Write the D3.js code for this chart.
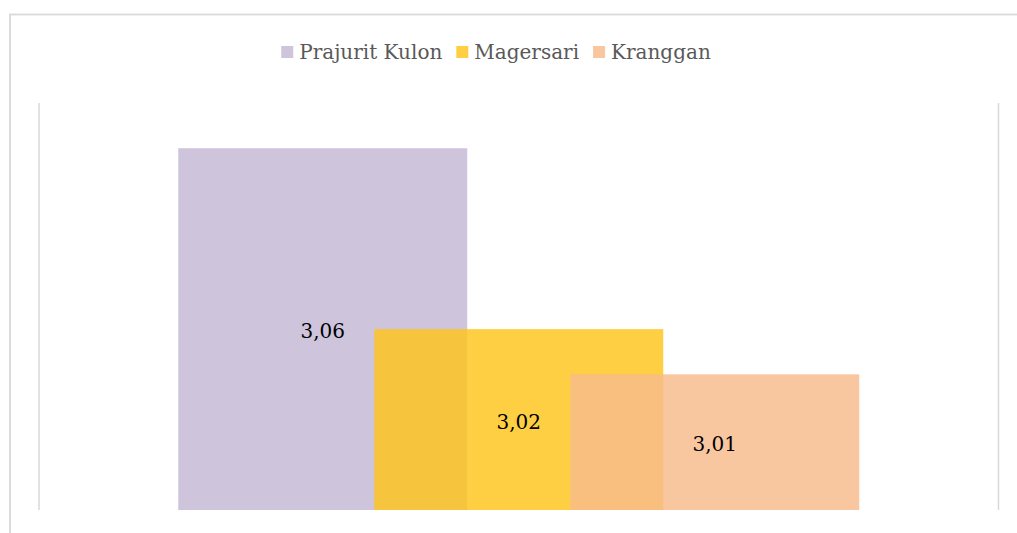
<!DOCTYPE html>
<meta charset="utf-8">
<style>
body { margin: 0; background: #fff; }
text { font-family: "DejaVu Serif", serif; }
.legend text { font-size: 20px; fill: #595959; }
.label { font-size: 20px; fill: #000; }
</style>
<body>
<script src="https://cdn.jsdelivr.net/npm/d3@7"></script>
<script>

var series = ["Prajurit Kulon", "Magersari", "Kranggan"];
var values = [3.06, 3.02, 3.01];
var labels = ["3,06", "3,02", "3,01"];
var colors = ["#c3b7d4", "#ffc51a", "#f7bb8b"];
var yDomain = [2.98, 3.07];

var width = 1017,
    height = 533;

var plot = {left: 39, right: 998.5, top: 103, bottom: 510};

var svg = d3.select("body").append("svg")
    .attr("width", width)
    .attr("height", height);

// chart frame (runs off the right and bottom edge)
svg.append("rect")
    .attr("x", 10)
    .attr("y", 14.5)
    .attr("width", width + 20)
    .attr("height", height + 20)
    .attr("fill", "none")
    .attr("stroke", "#d9d9d9")
    .attr("stroke-width", 1.8);

var y = d3.scaleLinear()
    .domain(yDomain)
    .range([plot.bottom, plot.top]);

// bars overlap: step 196, width 289
var center = (plot.left + plot.right) / 2;
var step = 196, barW = 289;
var x = d3.scalePoint()
    .domain(series)
    .range([center - step, center + step]);

// side lines of plot area
svg.selectAll("line.edge")
    .data([plot.left, plot.right])
  .enter().append("line")
    .attr("class", "edge")
    .attr("x1", function(d) { return d; })
    .attr("x2", function(d) { return d; })
    .attr("y1", plot.top)
    .attr("y2", plot.bottom)
    .attr("stroke", "#d9d9d9")
    .attr("stroke-width", 1.5);

var data = series.map(function(s, i) {
  return {name: s, value: values[i], label: labels[i], color: colors[i]};
});

svg.selectAll("rect.bar")
    .data(data)
  .enter().append("rect")
    .attr("class", "bar")
    .attr("x", function(d) { return x(d.name) - barW / 2; })
    .attr("y", function(d) { return y(d.value); })
    .attr("width", barW)
    .attr("height", function(d) { return y(yDomain[0]) - y(d.value); })
    .attr("fill", function(d) { return d.color; })
    .attr("fill-opacity", 0.82);

svg.selectAll("text.label")
    .data(data)
  .enter().append("text")
    .attr("class", "label")
    .attr("x", function(d) { return x(d.name); })
    .attr("y", function(d) { return (y(d.value) + y(yDomain[0])) / 2; })
    .attr("text-anchor", "middle")
    .attr("dy", ".45em")
    .text(function(d) { return d.label; });

// legend, centred on x=496
var legend = svg.append("g").attr("class", "legend");
var lx = 0;
data.forEach(function(d, i) {
  if (i > 0) lx += 14;
  legend.append("rect")
      .attr("x", lx)
      .attr("y", 46)
      .attr("width", 12)
      .attr("height", 12)
      .attr("fill", d.color)
      .attr("fill-opacity", 0.82);
  var t = legend.append("text")
      .attr("x", lx + 18)
      .attr("y", 59)
      .text(d.name);
  lx += 18 + t.node().getComputedTextLength();
});
legend.attr("transform", "translate(" + (496 - lx / 2) + ",0)");

</script>
